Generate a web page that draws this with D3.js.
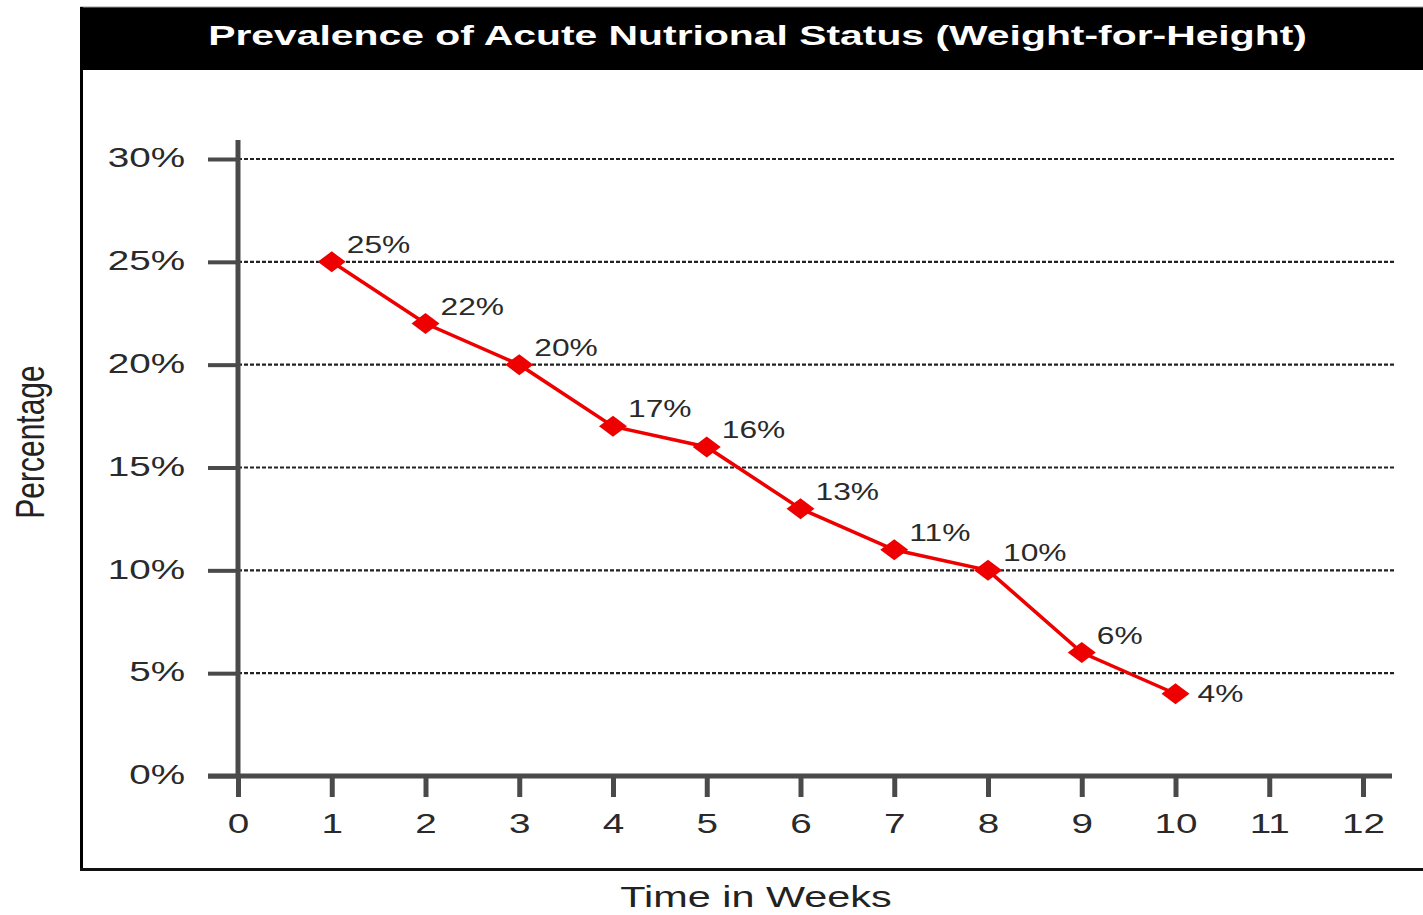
<!DOCTYPE html>
<html><head><meta charset="utf-8">
<script src="https://cdn.jsdelivr.net/npm/d3@7"></script>
<style>
html,body{margin:0;padding:0;background:#fff;}
text{font-family:"Liberation Sans",Arial,sans-serif;}
</style></head>
<body>
<svg id="chart" width="1423" height="915"></svg>
<script>
const title = "Prevalence of Acute Nutrional Status (Weight-for-Height)";
const xTitle = "Time in Weeks";
const yTitle = "Percentage";
const weeks = [1,2,3,4,5,6,7,8,9,10];
const prevalence = [25,22,20,17,16,13,11,10,6,4];
const labelSide = ["above","above","above","above","above","above","above","above","above","right"];
const xTicks = [0,1,2,3,4,5,6,7,8,9,10,11,12];
const yTicks = [0,5,10,15,20,25,30];

const SX = 1.38; // horizontal text stretch
const svg = d3.select("#chart");
const axisColor = "#4a4a4a";
const textColor = "#2a2a2a";

const x = d3.scaleLinear().domain([0,12]).range([238,1363]);
const y = d3.scaleLinear().domain([0,30]).range([776,159]);

// Frame
svg.append("rect").attr("x",80).attr("y",7).attr("width",1343).attr("height",63).attr("fill","#000");
svg.append("line").attr("x1",80).attr("x2",1423).attr("y1",7).attr("y2",7).attr("stroke","#999").attr("stroke-width",1);
svg.append("line").attr("x1",81.5).attr("x2",81.5).attr("y1",7).attr("y2",871).attr("stroke","#000").attr("stroke-width",3);
svg.append("line").attr("x1",80).attr("x2",1423).attr("y1",869.5).attr("y2",869.5).attr("stroke","#111").attr("stroke-width",3);

// Title
const tt = svg.append("text").text(title)
  .attr("font-weight","bold").attr("font-size",27).attr("fill","#fff")
  .attr("text-anchor","middle");
const tw = tt.node().getComputedTextLength();
tt.attr("transform",`translate(757.5,45) scale(${1099/tw},1)`);

// Gridlines
svg.append("g").selectAll("line").data(yTicks.filter(d=>d>0)).join("line")
  .attr("x1",x(0)).attr("x2",1395)
  .attr("y1",d=>y(d)).attr("y2",d=>y(d))
  .attr("stroke","#222").attr("stroke-width",2.2).attr("stroke-dasharray","4,2");

// Y axis
const yAxis = svg.append("g").attr("transform",`translate(${x(0)},0)`)
  .call(d3.axisLeft(y).tickValues(yTicks).tickSize(30).tickSizeOuter(0).tickFormat(d=>d+"%"));
yAxis.select(".domain").remove();
yAxis.selectAll(".tick line").attr("stroke",axisColor).attr("stroke-width",4);
yAxis.selectAll(".tick text").attr("x",0).attr("dy","0.35em")
  .attr("font-size",28).attr("fill",textColor).attr("text-anchor","end")
  .attr("transform",`translate(-53,-2) scale(${SX},1)`);
svg.append("line").attr("x1",x(0)).attr("x2",x(0)).attr("y1",y(0)+2).attr("y2",y(30)-19)
  .attr("stroke",axisColor).attr("stroke-width",5);

// X axis
const xAxis = svg.append("g").attr("transform",`translate(0,${y(0)})`)
  .call(d3.axisBottom(x).tickValues(xTicks).tickSize(21).tickSizeOuter(0).tickFormat(d=>d));
xAxis.select(".domain").remove();
xAxis.selectAll(".tick line").attr("stroke",axisColor).attr("stroke-width",5);
xAxis.selectAll(".tick text").attr("y",0).attr("dy",0)
  .attr("font-size",28).attr("fill",textColor).attr("text-anchor","middle")
  .attr("transform",`translate(0,57) scale(${SX},1)`);
svg.append("line").attr("x1",x(0)-30).attr("x2",x(12)+29).attr("y1",y(0)).attr("y2",y(0))
  .attr("stroke",axisColor).attr("stroke-width",5);

// Axis titles
svg.append("text").text(xTitle).attr("font-size",30).attr("fill","#222").attr("text-anchor","middle")
  .attr("transform",`translate(756,907) scale(${SX},1)`);
svg.append("text").text(yTitle).attr("font-size",30).attr("fill","#222").attr("text-anchor","middle")
  .attr("transform",`translate(44,442) scale(${SX},1) rotate(-90)`);

// Line
const pts = weeks.map((w,i)=>({w, v:prevalence[i], side:labelSide[i]}));
svg.append("path").datum(pts)
  .attr("d", d3.line().x(d=>x(d.w)).y(d=>y(d.v)))
  .attr("fill","none").attr("stroke","#ee0000").attr("stroke-width",3.5);

// Markers
svg.append("g").selectAll("path").data(pts).join("path")
  .attr("transform",d=>`translate(${x(d.w)},${y(d.v)})`)
  .attr("d","M-14,0L0,-10.5L14,0L0,10.5Z")
  .attr("fill","#ee0000");

// Data labels
svg.append("g").selectAll("text").data(pts).join("text")
  .text(d=>d.v+"%")
  .attr("font-size",23).attr("fill",textColor)
  .attr("transform",d=> d.side==="right"
     ? `translate(${x(d.w)+22},${y(d.v)+8}) scale(${SX},1)`
     : `translate(${x(d.w)+15},${y(d.v)-9}) scale(${SX},1)`);
</script>
</body></html>
